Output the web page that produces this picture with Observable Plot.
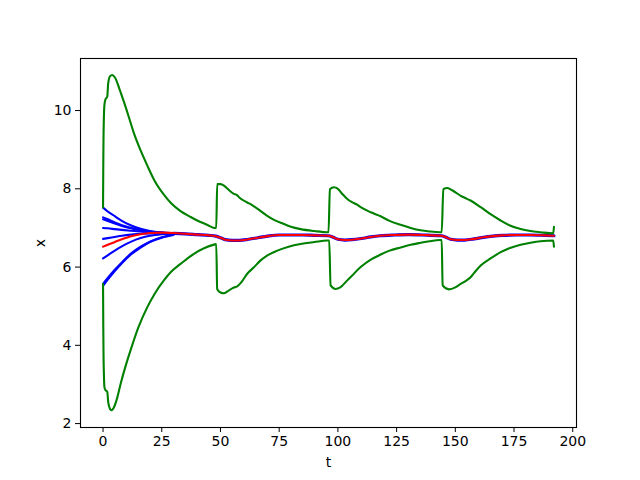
<!DOCTYPE html>
<html><head><meta charset="utf-8">
<style>body{margin:0;background:#fff;} svg{font-family:"DejaVu Sans",sans-serif;}</style>
<script src="https://cdn.jsdelivr.net/npm/d3@7"></script>
<script src="https://cdn.jsdelivr.net/npm/@observablehq/plot@0.6"></script>
</head><body><div id="chart"></div>
<script>
// ---- data ----
const tStart = [0, 2, 5, 8, 12, 16, 20, 25, 30];
const blue1 = [7.52, 7.42, 7.30, 7.18, 7.06, 6.98, 6.92, 6.88, 6.86];
const blue2 = [7.27, 7.22, 7.14, 7.07, 7.00, 6.95, 6.91, 6.88, 6.86];
const blue3 = [7.22, 7.18, 7.11, 7.05, 6.99, 6.94, 6.91, 6.88, 6.86];
const blue4 = [7.00, 6.99, 6.97, 6.95, 6.93, 6.91, 6.89, 6.87, 6.86];
const blue5 = [6.72, 6.74, 6.77, 6.80, 6.83, 6.85, 6.86, 6.86, 6.86];
const blue6 = [6.22, 6.30, 6.42, 6.53, 6.65, 6.74, 6.80, 6.84, 6.86];
const blue7 = [5.57, 5.72, 5.93, 6.12, 6.35, 6.52, 6.65, 6.76, 6.83];
const blue8 = [5.52, 5.68, 5.90, 6.10, 6.33, 6.50, 6.64, 6.75, 6.82];
const redStart = [6.52, 6.57, 6.64, 6.71, 6.79, 6.84, 6.87, 6.88, 6.87];

const tTail = [30, 35, 40, 45, 48, 50, 52, 55, 58, 62, 66, 70, 75, 80, 85, 90, 96, 98, 100, 103, 106, 110, 114, 118, 124, 130, 136, 144, 146, 148, 151, 154, 158, 162, 166, 170, 176, 182, 188, 192];
const xTail = [6.86, 6.85, 6.83, 6.81, 6.79, 6.75, 6.70, 6.68, 6.68, 6.71, 6.75, 6.79, 6.82, 6.82, 6.82, 6.81, 6.80, 6.76, 6.71, 6.69, 6.70, 6.73, 6.77, 6.80, 6.82, 6.83, 6.82, 6.80, 6.76, 6.71, 6.69, 6.69, 6.72, 6.76, 6.79, 6.81, 6.82, 6.82, 6.81, 6.80];

const tUpper = [0, 0.1, 0.2, 0.35, 0.6, 1, 1.8, 2.2, 3, 3.9, 5, 7, 8.9, 11, 13.1, 16, 18.8, 22, 25.9, 29, 33, 37, 40.1, 44, 47.6, 48.2, 48.6, 50, 51.5, 53, 55.7, 57, 58, 61.4, 63, 65.5, 69.9, 73, 77, 80, 84.1, 90, 95.5, 96, 96.6, 98.3, 100, 102, 104, 106, 108, 109.7, 114, 118.2, 122, 126.7, 131, 135.2, 139, 143.5, 144.2, 144.9, 146.6, 149, 152.3, 154, 156.5, 160.8, 165, 169.3, 173, 177.8, 182, 186.3, 191.7, 192];
const xUpper = [7.52, 8.6, 9.3, 9.8, 10.15, 10.28, 10.36, 10.7, 10.88, 10.91, 10.85, 10.55, 10.22, 9.83, 9.43, 8.98, 8.6, 8.2, 7.85, 7.63, 7.43, 7.29, 7.19, 7.09, 7.0, 7.0, 8.12, 8.12, 8.08, 8.0, 7.87, 7.84, 7.78, 7.65, 7.6, 7.5, 7.31, 7.2, 7.1, 7.03, 6.97, 6.92, 6.89, 6.89, 7.99, 8.04, 8.0, 7.86, 7.74, 7.66, 7.6, 7.53, 7.4, 7.3, 7.18, 7.08, 7.0, 6.94, 6.91, 6.89, 6.89, 7.99, 8.02, 7.95, 7.82, 7.77, 7.7, 7.53, 7.35, 7.19, 7.07, 6.97, 6.92, 6.89, 6.86, 7.03];

const tLower = [0, 0.1, 0.2, 0.35, 0.6, 1, 1.8, 2.2, 3, 3.5, 4.5, 6, 7.5, 9.5, 11.7, 15, 18.8, 22, 25.9, 29, 33, 38.7, 43, 47.6, 48.2, 48.6, 50, 51.5, 53, 55.7, 57, 59, 61.4, 64, 67.1, 70, 74.2, 79, 84.1, 90, 95.5, 96.3, 96.9, 99, 101, 104, 106, 109.7, 114, 118.2, 122, 126.7, 131, 135.2, 139, 143.5, 144.2, 144.6, 147.3, 150, 152.3, 154, 156.5, 158, 160.8, 165, 169.3, 173, 177.8, 182, 186.3, 191.7, 192];
const xLower = [5.57, 4.5, 3.8, 3.3, 2.93, 2.86, 2.81, 2.55, 2.37, 2.34, 2.4, 2.65, 3.02, 3.45, 3.87, 4.45, 4.97, 5.32, 5.66, 5.88, 6.08, 6.34, 6.48, 6.58, 6.59, 5.44, 5.35, 5.33, 5.38, 5.48, 5.5, 5.62, 5.83, 5.98, 6.17, 6.3, 6.42, 6.52, 6.59, 6.64, 6.68, 6.68, 5.53, 5.44, 5.48, 5.66, 5.78, 6.0, 6.19, 6.32, 6.42, 6.5, 6.57, 6.62, 6.66, 6.69, 6.69, 5.53, 5.43, 5.48, 5.57, 5.63, 5.74, 5.85, 6.04, 6.22, 6.38, 6.48, 6.57, 6.62, 6.66, 6.68, 6.52];

const xTicks = [0, 25, 50, 75, 100, 125, 150, 175, 200];
const yTicks = [2, 4, 6, 8, 10];

// ---- build tables ----
function rows(name, ts, xs) { return ts.map((t, i) => ({s: name, t, x: xs[i]})); }
const blueRows = [blue1, blue2, blue3, blue4, blue5, blue6, blue7, blue8]
  .flatMap((b, k) => rows("b" + k, tStart, b));
const tailRows = rows("tail", tTail, xTail);
const redRows = rows("r", tStart, redStart).concat(rows("r", tTail.slice(1), xTail.slice(1)));
const greenRows = rows("u", tUpper, xUpper).concat(rows("l", tLower, xLower));

const chart = Plot.plot({
  width: 640, height: 480,
  marginLeft: 80, marginRight: 64, marginTop: 58, marginBottom: 53,
  style: {fontFamily: "DejaVu Sans, sans-serif", fontSize: "14px", background: "white", overflow: "visible"},
  x: {domain: [-9.6, 201.6]},
  y: {domain: [1.9, 11.33]},
  marks: [
    Plot.line(blueRows, {x: "t", y: "x", z: "s", stroke: "blue", strokeWidth: 2.1, curve: "monotone-x"}),
    Plot.line(tailRows, {x: "t", y: "x", stroke: "blue", strokeWidth: 3.2, curve: "monotone-x"}),
    Plot.line(redRows, {x: "t", y: "x", z: "s", stroke: "red", strokeWidth: 2.1, curve: "monotone-x"}),
    Plot.line(greenRows, {x: "t", y: "x", z: "s", stroke: "green", strokeWidth: 2.1, curve: "monotone-x"}),
    Plot.frame({stroke: "black", strokeWidth: 1.1}),
    Plot.axisX({ticks: xTicks, tickSize: 5, tickPadding: 4, fontSize: 14, label: "t", labelAnchor: "center", labelArrow: false, labelOffset: 39, stroke: "black", color: "black"}),
    Plot.axisY({ticks: yTicks, tickSize: 5, tickPadding: 4, fontSize: 14, label: "x", labelAnchor: "center", labelArrow: false, labelOffset: 45, stroke: "black", color: "black"})
  ]
});
document.getElementById("chart").appendChild(chart);
</script></body></html>
